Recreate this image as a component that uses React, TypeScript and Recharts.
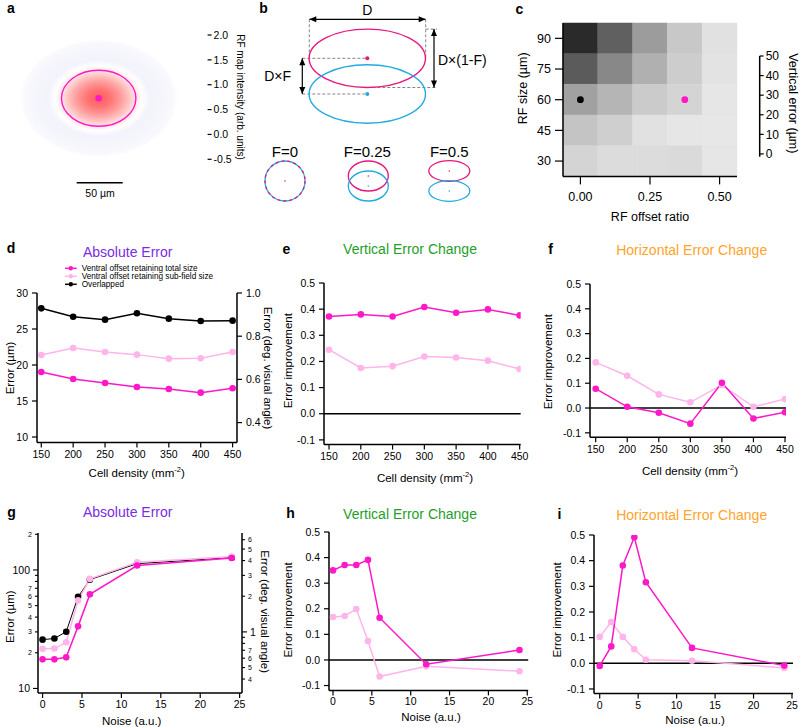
import React from 'react';
import {
  LineChart,
  Line,
  XAxis,
  YAxis,
  ReferenceLine,
  ReferenceArea,
  ComposedChart,
  Scatter,
} from 'recharts';

const FONT = '"Liberation Sans", Arial, Helvetica, sans-serif';
const MAGENTA = '#ff18c8';
const PINK = '#ffb4ea';
const PURPLE = '#7b2be2';
const GREEN = '#1f9e2a';
const ORANGE = '#ffa42a';
const RING_PINK = '#e8177d';
const RING_BLUE = '#22aae2';

// d / e / f : cell density sweep
const density = [150, 200, 250, 300, 350, 400, 450];
const absTotal = [19.03, 18.06, 17.5, 16.94, 16.67, 16.16, 16.76];
const absSub = [21.39, 22.36, 21.81, 21.44, 20.88, 20.93, 21.81];
const absOverlap = [27.87, 26.71, 26.3, 27.18, 26.44, 26.11, 26.16];
const vertTotal = [0.372, 0.38, 0.372, 0.408, 0.386, 0.399, 0.376];
const vertSub = [0.245, 0.175, 0.182, 0.219, 0.215, 0.203, 0.171];
const horzTotal = [0.078, 0.005, -0.019, -0.063, 0.102, -0.042, -0.017];
const horzSub = [0.184, 0.13, 0.055, 0.023, 0.093, 0.005, 0.036];

// g / h / i : noise sweep
const noise = [0, 1.5, 3, 4.5, 6, 12, 24];
const noiseAbsTotal = [17.6, 17.6, 18.3, 33.4, 62.2, 109, 126];
const noiseAbsSub = [21.6, 21.7, 24.5, 55.3, 84, 116, 130];
const noiseAbsOverlap = [25.8, 26.4, 30.1, 59.2, 82.8, 113, 127];
const noiseVertTotal = [0.35, 0.371, 0.371, 0.391, 0.165, -0.017, 0.039];
const noiseVertSub = [0.168, 0.172, 0.199, 0.074, -0.065, -0.025, -0.044];
const noiseHorzTotal = [-0.01, 0.066, 0.381, 0.491, 0.316, 0.06, -0.009];
const noiseHorzSub = [0.103, 0.161, 0.103, 0.055, 0.014, 0.01, -0.018];

// c : vertical error heat map (rows top -> bottom)
const offsetRatios = [0, 0.125, 0.25, 0.375, 0.5];
const rfSizes = [90, 75, 60, 45, 30];
const vertErrorGrid = [
  [48, 37, 25, 16, 11],
  [38, 29, 21, 15, 10.6],
  [24, 20, 15.5, 13.7, 10],
  [17, 14.7, 11, 10, 9.8],
  [13.7, 12, 12, 12.5, 10],
];
const markedCells = [
  { x: 0, y: 60, color: '#000' },
  { x: 0.375, y: 60, color: MAGENTA },
];

const densityTicks = [150, 200, 250, 300, 350, 400, 450];
const noiseTicks = [0, 5, 10, 15, 20, 25];
const improveTicks = [-0.1, 0, 0.1, 0.2, 0.3, 0.4, 0.5];
const umToDeg = 30;

const grayOf = (v: number) => {
  const t = Math.max(0, Math.min(1, (v - 5) / 45));
  const g = Math.round(255 - t * 223);
  return `rgb(${g},${g},${g})`;
};

type Series = { key: string; values: number[]; color: string; width?: number };

const LW = 40;
const RW = 40;
const TOP = 12;
const XH = 34;
const RPAD = 14;

const tickStyle = { fontSize: 10.5, fill: '#000', fontFamily: FONT };
const axisLine = { stroke: '#000', strokeWidth: 1.5 };
const tickLine = { stroke: '#000', strokeWidth: 1.2 };

function logTick(side: 'left' | 'right', labels: Record<string, [string, boolean]>) {
  return (p: any) => {
    const v = p.payload.value;
    const lab = labels[String(+Number(v).toFixed(3))];
    const major = !!(lab && lab[1]);
    const len = major ? 5 : 3;
    const s = side === 'left' ? -1 : 1;
    return (
      <g>
        <line x1={p.x} x2={p.x + s * len} y1={p.y} y2={p.y} stroke="#000" strokeWidth={1.1} />
        {lab && (
          <text
            x={p.x + s * (len + 3)}
            y={p.y}
            textAnchor={side === 'left' ? 'end' : 'start'}
            dominantBaseline="central"
            fontSize={major ? 10.5 : 7}
            fontFamily={FONT}
            fill="#000"
          >
            {lab[0]}
          </text>
        )}
      </g>
    );
  };
}

function Panel(props: {
  x0: number; y0: number; x1: number; y1: number;
  xs: number[]; xDomain: [number, number]; xTicks: number[];
  yDomain: [number, number]; yTicks: number[]; yFmt?: (v: number) => string;
  series: Series[]; zero?: boolean; xTickMargin?: number;
  log?: boolean; leftTick?: any;
  right?: { domain: [number, number]; ticks: number[]; fmt?: (v: number) => string; tick?: any; log?: boolean };
}) {
  const { x0, y0, x1, y1, xs, series, right } = props;
  const data = xs.map((x, i) => {
    const row: Record<string, number> = { x };
    series.forEach((s) => (row[s.key] = s.values[i]));
    return row;
  });
  const w = x1 - x0 + LW + (right ? RW : RPAD);
  const h = y1 - y0 + TOP + XH;
  return (
    <div style={{ position: 'absolute', left: x0 - LW, top: y0 - TOP }}>
      <LineChart width={w} height={h} data={data} margin={{ top: TOP, right: right ? 0 : RPAD, bottom: 0, left: 0 }}>
        <XAxis
          type="number"
          dataKey="x"
          domain={props.xDomain}
          ticks={props.xTicks}
          allowDataOverflow
          interval={0}
          height={XH}
          tick={tickStyle}
          tickSize={5}
          tickMargin={props.xTickMargin ?? 3}
          axisLine={axisLine}
          tickLine={tickLine}
        />
        <YAxis
          yAxisId="l"
          type="number"
          scale={props.log ? 'log' : 'auto'}
          domain={props.yDomain}
          ticks={props.yTicks}
          allowDataOverflow
          interval={0}
          width={LW}
          tick={props.leftTick ?? tickStyle}
          tickFormatter={props.yFmt}
          tickSize={props.leftTick ? 0 : 5}
          tickMargin={props.leftTick ? 0 : 4}
          axisLine={axisLine}
          tickLine={props.leftTick ? false : tickLine}
        />
        {right && (
          <YAxis
            yAxisId="r"
            orientation="right"
            type="number"
            scale={right.log ? 'log' : 'auto'}
            domain={right.domain}
            ticks={right.ticks}
            allowDataOverflow
            interval={0}
            width={RW}
            tick={right.tick ?? tickStyle}
            tickFormatter={right.fmt}
            tickSize={right.tick ? 0 : 5}
            tickMargin={right.tick ? 0 : 4}
            axisLine={axisLine}
            tickLine={right.tick ? false : tickLine}
          />
        )}
        {props.zero && <ReferenceLine yAxisId="l" y={0} stroke="#000" strokeWidth={1.5} />}
        {series.map((s) => (
          <Line
            key={s.key}
            yAxisId="l"
            dataKey={s.key}
            stroke={s.color}
            strokeWidth={s.width ?? 1.5}
            dot={{ r: 3.3, fill: s.color, stroke: 'none' }}
            isAnimationActive={false}
          />
        ))}
      </LineChart>
    </div>
  );
}

const f1 = (v: number) => v.toFixed(1);

function Heatmap() {
  const x0 = 563.3, x1 = 737.3, y0 = 23.3, y1 = 176.7;
  const hx = (offsetRatios[1] - offsetRatios[0]) / 2;
  const hy = (rfSizes[0] - rfSizes[1]) / 2;
  const cTick = { fontSize: 12.5, fill: '#000', fontFamily: FONT };
  return (
    <div style={{ position: 'absolute', left: x0 - 45, top: y0 - 8 }}>
      <ComposedChart width={x1 - x0 + 45 + 6} height={y1 - y0 + 8 + 36} margin={{ top: 8, right: 6, bottom: 0, left: 0 }}>
        <XAxis
          type="number"
          dataKey="x"
          domain={[offsetRatios[0] - hx, offsetRatios[4] + hx]}
          ticks={[0, 0.25, 0.5]}
          tickFormatter={(v: number) => v.toFixed(2)}
          allowDataOverflow
          interval={0}
          height={36}
          tick={cTick}
          tickSize={8}
          tickMargin={8}
          axisLine={axisLine}
          tickLine={tickLine}
        />
        <YAxis
          type="number"
          dataKey="y"
          domain={[rfSizes[4] - hy, rfSizes[0] + hy]}
          ticks={[30, 45, 60, 75, 90]}
          allowDataOverflow
          interval={0}
          width={45}
          tick={cTick}
          tickSize={8}
          tickMargin={4}
          axisLine={axisLine}
          tickLine={tickLine}
        />
        {vertErrorGrid.map((row, r) =>
          row.map((v, c) => (
            <ReferenceArea
              key={`${r}-${c}`}
              x1={offsetRatios[c] - hx}
              x2={offsetRatios[c] + hx}
              y1={rfSizes[r] - hy}
              y2={rfSizes[r] + hy}
              fill={grayOf(v)}
              fillOpacity={1}
              stroke={grayOf(v)}
              strokeWidth={0.5}
            />
          ))
        )}
        {markedCells.map((m, i) => (
          <Scatter
            key={i}
            data={[m]}
            dataKey="y"
            fill={m.color}
            shape={(p: any) => <circle cx={p.cx} cy={p.cy} r={3.4} fill={m.color} />}
            isAnimationActive={false}
          />
        ))}
      </ComposedChart>
    </div>
  );
}

function ColorBar(props: {
  x0: number; x1: number; y0: number; y1: number; domain: [number, number];
  ticks: number[]; fill: string; from: number; to: number; fmt?: (v: number) => string;
  fontSize: number; axis: boolean;
}) {
  const { x0, x1, y0, y1 } = props;
  return (
    <div style={{ position: 'absolute', left: x0, top: y0 - 10 }}>
      <ComposedChart width={x1 - x0 + 30} height={y1 - y0 + 20} margin={{ top: 10, right: 0, bottom: 10, left: 0 }}>
        <XAxis type="number" dataKey="x" domain={[0, 1]} hide height={0} />
        <YAxis
          type="number"
          orientation="right"
          domain={props.domain}
          ticks={props.ticks}
          tickFormatter={props.fmt}
          allowDataOverflow
          interval={0}
          width={30}
          tick={{ fontSize: props.fontSize, fill: '#000', fontFamily: FONT }}
          tickSize={4}
          tickMargin={2}
          axisLine={props.axis ? axisLine : false}
          tickLine={tickLine}
        />
        <ReferenceArea x1={0} x2={1} y1={props.from} y2={props.to} fill={props.fill} fillOpacity={1} stroke="none" />
      </ComposedChart>
    </div>
  );
}

function Arrow({ x1, y1, x2, y2 }: { x1: number; y1: number; x2: number; y2: number }) {
  const a = Math.atan2(y2 - y1, x2 - x1);
  const head = (x: number, y: number, ang: number) => {
    const L = 7, W = 3;
    const bx = x - L * Math.cos(ang), by = y - L * Math.sin(ang);
    const px = -Math.sin(ang) * W, py = Math.cos(ang) * W;
    return `${x},${y} ${bx + px},${by + py} ${bx - px},${by - py}`;
  };
  return (
    <g>
      <line x1={x1} y1={y1} x2={x2} y2={y2} stroke="#000" strokeWidth={1.2} />
      <polygon points={head(x2, y2, a)} fill="#000" />
      <polygon points={head(x1, y1, a + Math.PI)} fill="#000" />
    </g>
  );
}

function Overlay() {
  const T = (x: number, y: number, s: string, o: any = {}) => (
    <text x={x} y={y} textAnchor="middle" dominantBaseline="central" fontFamily={FONT} fontSize={11.5} fill="#000" {...o}>
      {s}
    </text>
  );
  const rot = (x: number, y: number, s: string, deg: number, o: any = {}) =>
    T(x, y, s, { transform: `rotate(${deg} ${x} ${y})`, ...o });
  const letter = (x: number, y: number, s: string) => T(x, y, s, { fontSize: 14, fontWeight: 'bold' });
  const title = (x: number, y: number, s: string, c: string) => T(x, y, s, { fontSize: 14, fill: c });
  const dens = (x: number, y: number) => (
    <text x={x} y={y} textAnchor="middle" dominantBaseline="central" fontFamily={FONT} fontSize={11.5}>
      Cell density (mm<tspan dy={-4} fontSize={7.5}>-2</tspan><tspan dy={4}>)</tspan>
    </text>
  );
  const dash = { stroke: '#777', strokeWidth: 0.9, strokeDasharray: '3 2' };
  const legend = [
    { y: 268.3, c: MAGENTA, s: 'Ventral offset retaining total size' },
    { y: 276.3, c: PINK, s: 'Ventral offset retaining sub-field size' },
    { y: 284.3, c: '#000', s: 'Overlapped' },
  ];
  return (
    <svg width={800} height={727} style={{ position: 'absolute', left: 0, top: 0, pointerEvents: 'none' }}>
      {/* panel a */}
      <ellipse cx={98.7} cy={98.3} rx={79} ry={59} fill="url(#rfGrad)" />
      <ellipse cx={98.7} cy={98.3} rx={37.2} ry={28} fill="none" stroke={MAGENTA} strokeWidth={1.4} />
      <circle cx={98.7} cy={98.3} r={3.3} fill={MAGENTA} />
      <line x1={76.7} x2={122.7} y1={182.7} y2={182.7} stroke="#000" strokeWidth={1.5} />
      {T(100, 192.5, '50 µm', { fontSize: 10.5 })}
      {rot(240, 97, 'RF map intensity (arb. units)', 90, { fontSize: 10 })}

      {/* panel b */}
      <Arrow x1={309.3} y1={19.3} x2={425.7} y2={19.3} />
      {T(367.3, 10, 'D', { fontSize: 14 })}
      <line x1={309.3} x2={309.3} y1={19.3} y2={58.3} {...dash} />
      <line x1={425.7} x2={425.7} y1={19.3} y2={58.3} {...dash} />
      <line x1={425.7} x2={437} y1={29.1} y2={29.1} {...dash} />
      <line x1={367.3} x2={437} y1={87.5} y2={87.5} {...dash} />
      <line x1={302.3} x2={367.3} y1={58.3} y2={58.3} {...dash} />
      <line x1={302.3} x2={367.3} y1={94} y2={94} {...dash} />
      <ellipse cx={367.3} cy={58.3} rx={58.2} ry={29.2} fill="none" stroke={RING_PINK} strokeWidth={1.4} />
      <ellipse cx={367.3} cy={94} rx={58.2} ry={29.2} fill="none" stroke={RING_BLUE} strokeWidth={1.4} />
      <circle cx={367.3} cy={58.3} r={2} fill={RING_PINK} />
      <circle cx={367.3} cy={94} r={2} fill={RING_BLUE} />
      <Arrow x1={434} y1={29.1} x2={434} y2={87.5} />
      <Arrow x1={302.3} y1={58.3} x2={302.3} y2={94} />
      {T(438, 60, 'D×(1-F)', { fontSize: 14, textAnchor: 'start' })}
      {T(291, 76, 'D×F', { fontSize: 14, textAnchor: 'end' })}
      {T(285, 151, 'F=0', { fontSize: 15 })}
      <circle cx={285} cy={181} r={20} fill="none" stroke={RING_BLUE} strokeWidth={1.3} />
      <circle cx={285} cy={181} r={20} fill="none" stroke={RING_PINK} strokeWidth={1.3} strokeDasharray="3 3" />
      <circle cx={285} cy={181} r={0.8} fill={RING_PINK} />
      {T(367.3, 151, 'F=0.25', { fontSize: 15 })}
      <ellipse cx={368.3} cy={176} rx={20} ry={15} fill="none" stroke={RING_PINK} strokeWidth={1.3} />
      <ellipse cx={368.3} cy={186} rx={20} ry={15} fill="none" stroke={RING_BLUE} strokeWidth={1.3} />
      <circle cx={368.3} cy={176} r={0.8} fill={RING_PINK} />
      <circle cx={368.3} cy={186} r={0.8} fill={RING_BLUE} />
      {T(449.3, 151, 'F=0.5', { fontSize: 15 })}
      <ellipse cx={449.3} cy={171} rx={20.5} ry={10.3} fill="none" stroke={RING_PINK} strokeWidth={1.3} />
      <ellipse cx={449.3} cy={191} rx={20.5} ry={10.3} fill="none" stroke={RING_BLUE} strokeWidth={1.3} />
      <circle cx={449.3} cy={171} r={0.8} fill={RING_PINK} />
      <circle cx={449.3} cy={191} r={0.8} fill={RING_BLUE} />

      {/* panel c */}
      {rot(523.3, 88.3, 'RF size (µm)', -90, { fontSize: 12.5 })}
      {T(650, 216.7, 'RF offset ratio', { fontSize: 12.5 })}
      {rot(793.3, 103.3, 'Vertical error (µm)', 90, { fontSize: 12.5 })}

      {/* letters */}
      {letter(11, 8, 'a')}
      {letter(263.5, 8, 'b')}
      {letter(519.5, 8.5, 'c')}
      {letter(11, 248, 'd')}
      {letter(286.5, 248.5, 'e')}
      {letter(550.5, 249, 'f')}
      {letter(11.5, 512, 'g')}
      {letter(290.5, 512.5, 'h')}
      {letter(559.5, 514, 'i')}

      {/* titles */}
      {title(127.7, 252.3, 'Absolute Error', PURPLE)}
      {title(410, 249.3, 'Vertical Error Change', GREEN)}
      {title(691.7, 250, 'Horizontal Error Change', ORANGE)}
      {title(127.7, 511.7, 'Absolute Error', PURPLE)}
      {title(410, 514, 'Vertical Error Change', GREEN)}
      {title(691.7, 515, 'Horizontal Error Change', ORANGE)}

      {/* legend d */}
      {legend.map((l) => (
        <g key={l.s}>
          <line x1={65} x2={76.7} y1={l.y} y2={l.y} stroke={l.c} strokeWidth={1.5} />
          <circle cx={70.8} cy={l.y} r={2.2} fill={l.c} />
          <text x={81.7} y={l.y} dominantBaseline="central" fontFamily={FONT} fontSize={8.2}>
            {l.s}
          </text>
        </g>
      ))}

      {/* axis titles */}
      {rot(10, 368, 'Error (µm)', -90)}
      {rot(267.5, 368, 'Error (deg. visual angle)', 90)}
      {dens(136.7, 473.3)}
      {rot(288.3, 360.7, 'Error improvement', -90)}
      {dens(425, 477.7)}
      {rot(548.3, 361.7, 'Error improvement', -90)}
      {dens(690, 471)}
      {rot(10, 616.7, 'Error (µm)', -90)}
      {rot(264.5, 611.7, 'Error (deg. visual angle)', 90)}
      {T(131.7, 720.7, 'Noise (a.u.)')}
      {rot(288.3, 610, 'Error improvement', -90)}
      {T(431, 717, 'Noise (a.u.)')}
      {rot(556.7, 610, 'Error improvement', -90)}
      {T(695, 720.3, 'Noise (a.u.)')}
    </svg>
  );
}

const gLeftLabels: Record<string, [string, boolean]> = {
  '10': ['10', true], '20': ['2', false], '30': ['3', false], '40': ['4', false], '50': ['5', false],
  '60': ['6', false], '70': ['7', false], '100': ['100', true], '200': ['2', false],
};
const gRightLabels: Record<string, [string, boolean]> = {
  '0.4': ['4', false], '0.5': ['5', false], '0.6': ['6', false], '0.7': ['7', false], '1': ['1', true],
  '2': ['2', false], '3': ['3', false], '4': ['4', false], '5': ['5', false], '6': ['6', false],
};

export default function App() {
  const dMin = 9.25;
  const gMin = 9.15;
  const gMax = 205;
  return (
    <div style={{ position: 'absolute', left: 0, top: 0, width: 800, height: 727, background: '#fff', overflow: 'hidden' }}>
      <svg width={0} height={0} style={{ position: 'absolute' }}>
        <defs>
          <radialGradient id="rfGrad" cx="50%" cy="50%" r="50%">
            <stop offset="0" stopColor="#ff5c5c" />
            <stop offset="0.15" stopColor="#ff7474" />
            <stop offset="0.3" stopColor="#ffa2a2" />
            <stop offset="0.45" stopColor="#ffdcdc" />
            <stop offset="0.55" stopColor="#ffffff" />
            <stop offset="0.64" stopColor="#f3f3fc" />
            <stop offset="0.8" stopColor="#f5f5fc" />
            <stop offset="0.93" stopColor="#f8f8fd" />
            <stop offset="1" stopColor="#ffffff" />
          </radialGradient>
          <linearGradient id="redBar" x1="0" y1="0" x2="0" y2="1">
            <stop offset="0" stopColor="#ff5050" />
            <stop offset="0.8" stopColor="#ffffff" />
            <stop offset="1" stopColor="#d4d4fa" />
          </linearGradient>
          <linearGradient id="grayBar" x1="0" y1="0" x2="0" y2="1">
            <stop offset="0" stopColor="#1a1a1a" />
            <stop offset="1" stopColor="#fafafa" />
          </linearGradient>
        </defs>
      </svg>

      <ColorBar x0={197.7} x1={207.3} y0={35} y1={159.3} domain={[-0.5, 2]} ticks={[-0.5, 0, 0.5, 1, 1.5, 2]}
        fmt={f1} fill="url(#redBar)" from={-0.5} to={2} fontSize={10.5} axis={false} />

      <Heatmap />
      <ColorBar x0={748.3} x1={760} y0={56} y1={156.7} domain={[-1.4, 50]} ticks={[0, 10, 20, 30, 40, 50]}
        fill="url(#grayBar)" from={8} to={50} fontSize={12} axis />

      <Panel
        x0={36.7} x1={236.7} y0={293.3} y1={442.7}
        xs={density} xDomain={[143.3, 456.9]} xTicks={densityTicks}
        yDomain={[dMin, 30]} yTicks={[10, 15, 20, 25, 30]}
        right={{ domain: [dMin / umToDeg, 30 / umToDeg], ticks: [0.4, 0.6, 0.8, 1.0], fmt: f1 }}
        series={[
          { key: 'overlap', values: absOverlap, color: '#000' },
          { key: 'sub', values: absSub, color: PINK },
          { key: 'total', values: absTotal, color: MAGENTA },
        ]}
      />
      <Panel
        x0={324.3} x1={521} y0={283.1} y1={444.7}
        xs={density} xDomain={[142.1, 451.6]} xTicks={densityTicks}
        yDomain={[-0.118, 0.5]} yTicks={improveTicks} yFmt={f1} zero
        series={[
          { key: 'sub', values: vertSub, color: PINK },
          { key: 'total', values: vertTotal, color: MAGENTA },
        ]}
      />
      <Panel
        x0={590} x1={786} y0={284} y1={437.3}
        xs={density} xDomain={[141, 451.6]} xTicks={densityTicks}
        yDomain={[-0.118, 0.5]} yTicks={improveTicks} yFmt={f1} zero
        series={[
          { key: 'sub', values: horzSub, color: PINK },
          { key: 'total', values: horzTotal, color: MAGENTA },
        ]}
      />
      <Panel
        x0={37.7} x1={241.7} y0={533.3} y1={693.3}
        xs={noise} xDomain={[-0.58, 25.3]} xTicks={noiseTicks}
        log yDomain={[gMin, gMax]} yTicks={[10, 20, 30, 40, 50, 60, 70, 80, 90, 100, 200]}
        leftTick={logTick('left', gLeftLabels)}
        right={{
          log: true,
          domain: [gMin / umToDeg, gMax / umToDeg],
          ticks: [0.4, 0.5, 0.6, 0.7, 0.8, 0.9, 1, 2, 3, 4, 5, 6],
          tick: logTick('right', gRightLabels),
        }}
        series={[
          { key: 'overlap', values: noiseAbsOverlap, color: '#000', width: 1 },
          { key: 'sub', values: noiseAbsSub, color: PINK },
          { key: 'total', values: noiseAbsTotal, color: MAGENTA },
        ]}
      />
      <Panel
        x0={329.3} x1={528.5} y0={532.3} y1={690.7}
        xs={noise} xDomain={[-0.515, 25.12]} xTicks={noiseTicks} xTickMargin={2}
        yDomain={[-0.119, 0.5]} yTicks={improveTicks} yFmt={f1} zero
        series={[
          { key: 'sub', values: noiseVertSub, color: PINK },
          { key: 'total', values: noiseVertTotal, color: MAGENTA },
        ]}
      />
      <Panel
        x0={594} x1={793} y0={534.7} y1={693.3}
        xs={noise} xDomain={[-0.741, 25.13]} xTicks={noiseTicks}
        yDomain={[-0.118, 0.5]} yTicks={improveTicks} yFmt={f1} zero
        series={[
          { key: 'sub', values: noiseHorzSub, color: PINK },
          { key: 'total', values: noiseHorzTotal, color: MAGENTA },
        ]}
      />

      <Overlay />
    </div>
  );
}
